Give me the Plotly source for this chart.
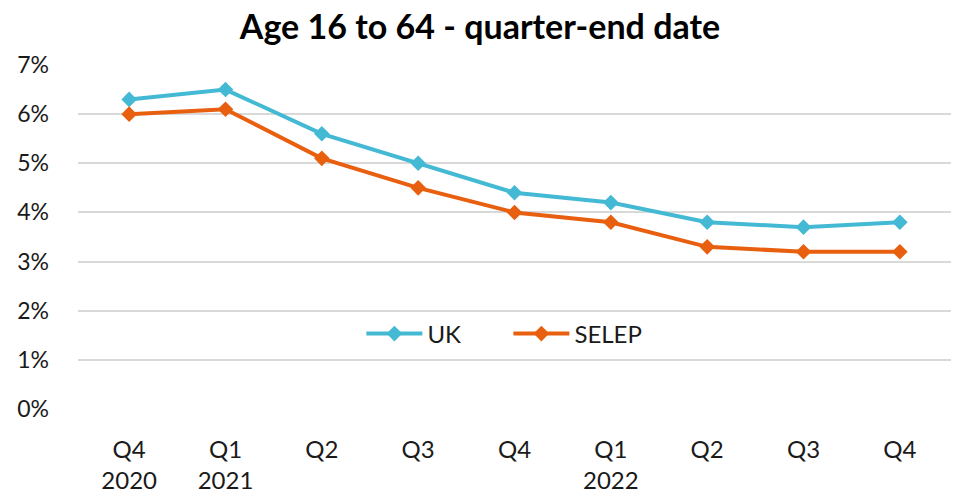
import plotly.graph_objects as go

categories = ["Q4 2020", "Q1 2021", "Q2 2021", "Q3 2021", "Q4 2021",
              "Q1 2022", "Q2 2022", "Q3 2022", "Q4 2022"]
tick_labels = ["Q4<br>2020", "Q1<br>2021", "Q2", "Q3", "Q4",
               "Q1<br>2022", "Q2", "Q3", "Q4"]
uk = [6.3, 6.5, 5.6, 5.0, 4.4, 4.2, 3.8, 3.7, 3.8]
selep = [6.0, 6.1, 5.1, 4.5, 4.0, 3.8, 3.3, 3.2, 3.2]
y_ticks = [0, 1, 2, 3, 4, 5, 6, 7]
y_tick_labels = [f"{v}%" for v in y_ticks]

FONT = "Lato, Liberation Sans, sans-serif"

fig = go.Figure()
fig.add_trace(go.Scatter(x=categories, y=uk, name="UK", mode="lines+markers",
                         line=dict(color="#44B9D4", width=4),
                         marker=dict(symbol="diamond", size=12, color="#44B9D4")))
fig.add_trace(go.Scatter(x=categories, y=selep, name="SELEP", mode="lines+markers",
                         line=dict(color="#E8600F", width=4),
                         marker=dict(symbol="diamond", size=12, color="#E8600F")))

fig.update_layout(
    width=960, height=496,
    margin=dict(l=78, r=9, t=65, b=87),
    paper_bgcolor="white", plot_bgcolor="white",
    font=dict(family=FONT, size=23, color="#1a1a1a"),
    title=dict(text="<b>Age 16 to 64 - quarter-end date</b>",
               x=0.5, xanchor="center", y=0.945, yanchor="middle",
               font=dict(family=FONT, size=34, color="#000000")),
    legend=dict(orientation="h", x=0.493, xanchor="center", y=0.218, yanchor="middle",
                font=dict(size=24, color="#1a1a1a"), bgcolor="rgba(0,0,0,0)",
                itemwidth=56, entrywidth=76, tracegroupgap=0),
    showlegend=True,
)
fig.update_xaxes(type="category", tickmode="array", tickvals=categories,
                 ticktext=tick_labels, showgrid=False, showline=False,
                 ticks="", tickfont=dict(size=24), ticklabelstandoff=24,
                 automargin=False)
fig.update_yaxes(range=[0, 7], tickmode="array", tickvals=y_ticks,
                 ticktext=y_tick_labels, showgrid=True, gridcolor="#D9D9D9",
                 gridwidth=1.5, zeroline=False, showline=False, ticks="",
                 tickfont=dict(size=23), ticklabelstandoff=28, automargin=False)

fig.write_html("out.html")
